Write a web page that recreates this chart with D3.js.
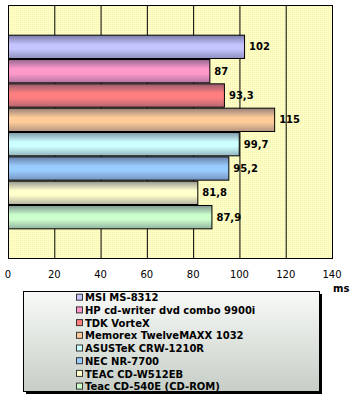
<!DOCTYPE html>
<html lang="en">

<head>
    <script src='https://d3js.org/d3.v7.min.js'></script>
    <style>
        body { margin: 0; background: #ffffff; }
    </style>
</head>

<body>
    <script>
        // chart data
        const drives = ["MSI MS-8312", "HP cd-writer dvd combo 9900i", "TDK VorteX",
            "Memorex TwelveMAXX 1032", "ASUSTeK CRW-1210R", "NEC NR-7700",
            "TEAC CD-W512EB", "Teac CD-540E (CD-ROM)"];
        const times = [102, 87, 93.3, 115, 99.7, 95.2, 81.8, 87.9];
        const colors = ["#c4c4ff", "#ff99cc", "#ff7f7f", "#ffcc99",
            "#ccffff", "#99ccff", "#ffffcc", "#ccffcc"];
        const ticks = [0, 20, 40, 60, 80, 100, 120, 140];

        const width = 352,
            height = 400;

        const svg = d3.select("body")
            .append("svg")
            .attr("width", width)
            .attr("height", height)
            .style("font-family", "'DejaVu Sans', Verdana, sans-serif");

        const defs = svg.append("defs");

        // dotted yellow background pattern
        const pat = defs.append("pattern")
            .attr("id", "dots")
            .attr("width", 2).attr("height", 2)
            .attr("patternUnits", "userSpaceOnUse");
        pat.append("rect").attr("width", 2).attr("height", 2).attr("fill", "#ffffc4");
        pat.append("rect").attr("width", 1).attr("height", 1).attr("fill", "#f2f2b8");

        // bar gradients
        colors.forEach(function (c, i) {
            const g = defs.append("linearGradient")
                .attr("id", "bar" + i)
                .attr("x1", 0).attr("y1", 0).attr("x2", 0).attr("y2", 1);
            const dark = d3.interpolateRgb(c, "#404060");
            g.append("stop").attr("offset", "0%").attr("stop-color", dark(0.55));
            g.append("stop").attr("offset", "40%").attr("stop-color", c);
            g.append("stop").attr("offset", "60%").attr("stop-color", c);
            g.append("stop").attr("offset", "100%").attr("stop-color", dark(0.4));
        });

        // legend gradient
        const lg = defs.append("linearGradient")
            .attr("id", "legendBg")
            .attr("x1", 0).attr("y1", 0).attr("x2", 0).attr("y2", 1);
        lg.append("stop").attr("offset", "0%").attr("stop-color", "#f8faf8");
        lg.append("stop").attr("offset", "100%").attr("stop-color", "#c6cec6");

        // scales
        const x = d3.scaleLinear()
            .domain([0, 140])
            .range([8, 332]);

        const y = d3.scaleBand()
            .domain(drives)
            .range([5, 259])
            .paddingInner(0)
            .paddingOuter(1.22);

        // plot background
        svg.append("rect")
            .attr("x", x(0)).attr("y", 5)
            .attr("width", x(140) - x(0)).attr("height", 254)
            .attr("fill", "url(#dots)");

        // grid lines
        svg.selectAll(".grid")
            .data(ticks)
            .enter()
            .append("line")
            .attr("x1", d => x(d) + 0.5).attr("x2", d => x(d) + 0.5)
            .attr("y1", 5).attr("y2", 259)
            .attr("stroke", "#000")
            .attr("stroke-width", 1);

        // top and bottom border
        svg.append("rect")
            .attr("x", x(0) + 0.5).attr("y", 5.5)
            .attr("width", x(140) - x(0)).attr("height", 253)
            .attr("fill", "none")
            .attr("stroke", "#000");

        // bars
        svg.selectAll(".bar")
            .data(times)
            .enter()
            .append("rect")
            .attr("class", "bar")
            .attr("x", x(0) + 0.5)
            .attr("y", (d, i) => y(drives[i]) + 0.5)
            .attr("width", d => x(d) - x(0))
            .attr("height", y.bandwidth() - 1)
            .attr("fill", (d, i) => "url(#bar" + i + ")")
            .attr("stroke", "#000")
            .attr("stroke-width", 1);

        // value labels
        svg.selectAll(".val")
            .data(times)
            .enter()
            .append("text")
            .attr("x", d => x(d) + 5)
            .attr("y", (d, i) => y(drives[i]) + y.bandwidth() / 2)
            .attr("dy", "0.36em")
            .attr("font-size", "10px")
            .attr("font-weight", "bold")
            .text(d => String(d).replace(".", ","));

        // x axis tick labels
        svg.selectAll(".tick")
            .data(ticks)
            .enter()
            .append("text")
            .attr("x", d => x(d))
            .attr("y", 274)
            .attr("dy", "0.36em")
            .attr("text-anchor", "middle")
            .attr("font-size", "10px")
            .text(d => d);

        // axis unit
        svg.append("text")
            .attr("x", 333).attr("y", 288)
            .attr("dy", "0.36em")
            .attr("font-size", "10px")
            .attr("font-weight", "bold")
            .text("ms");

        // legend
        svg.append("rect")
            .attr("x", 26).attr("y", 294)
            .attr("width", 296).attr("height", 100)
            .attr("fill", "#000");
        svg.append("rect")
            .attr("x", 23.5).attr("y", 291.5)
            .attr("width", 296).attr("height", 100)
            .attr("fill", "url(#legendBg)")
            .attr("stroke", "#000");

        const item = svg.selectAll(".item")
            .data(drives)
            .enter()
            .append("g")
            .attr("transform", (d, i) => "translate(76," + (297.7 + i * 12.7) + ")");

        item.append("rect")
            .attr("x", 0.5).attr("y", -3.5)
            .attr("width", 6).attr("height", 6)
            .attr("fill", (d, i) => colors[i])
            .attr("stroke", "#333");

        item.append("text")
            .attr("x", 9)
            .attr("dy", "0.36em")
            .attr("font-size", "10px")
            .attr("font-weight", "bold")
            .text(d => d);
    </script>
</body>

</html>
